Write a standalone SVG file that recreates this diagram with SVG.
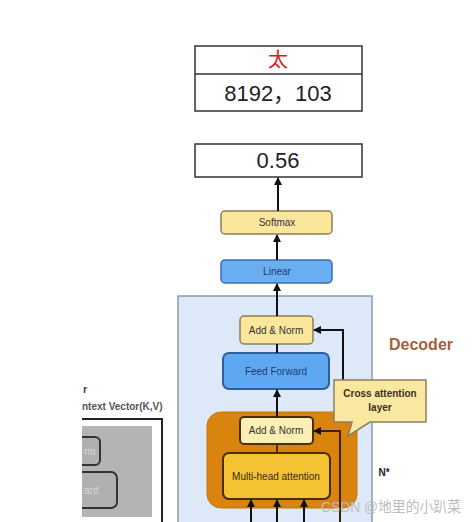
<svg xmlns="http://www.w3.org/2000/svg" width="474" height="522" viewBox="0 0 474 522">
<defs>
<marker id="ah" markerWidth="8" markerHeight="8" refX="7" refY="4" orient="auto" markerUnits="userSpaceOnUse"><path d="M0,0 L8,4 L0,8 Z" fill="#111"/></marker>
<clipPath id="encClip"><rect x="82" y="360" width="100" height="162"/></clipPath>
</defs>
<style>
.box{fill:#fff;stroke:#333;stroke-width:1.5}
.big{font-family:"Liberation Sans","Noto Sans CJK SC",sans-serif;font-size:22px;fill:#222;text-anchor:middle}
.sm{font-family:"Liberation Sans",Arial,sans-serif;font-size:10px;text-anchor:middle}
.yel{fill:#fbe79c;stroke:#8c7f55;stroke-width:1.5}
.blue{fill:#5ea8f2;stroke:#2d5f9e;stroke-width:2}
.conn{stroke:#111;stroke-width:2;fill:none}
</style>
<rect width="474" height="522" fill="#fff"/>
<!-- Decoder container -->
<g id="decoder">
<rect x="178" y="296" width="194" height="240" fill="#dde9f8" stroke="#8c98a8" stroke-width="1.5"/>
<text x="421" y="350" font-family="Liberation Sans,Arial,sans-serif" font-size="16" font-weight="bold" fill="#a65f3a" text-anchor="middle">Decoder</text>
<text x="384" y="476" font-family="Liberation Sans,Arial,sans-serif" font-size="10" font-weight="bold" fill="#222" text-anchor="middle">N*</text>
</g>
<!-- Encoder partial -->
<g id="encoder" clip-path="url(#encClip)">
<text x="83" y="393" font-family="Liberation Sans,Arial,sans-serif" font-size="11" font-weight="bold" fill="#444">r</text>
<text x="82" y="410" font-family="Liberation Sans,Arial,sans-serif" font-size="10" font-weight="bold" fill="#555">ntext Vector(K,V)</text>
<path d="M60,419 H162 V522" fill="none" stroke="#222" stroke-width="2"/>
<rect x="60" y="426" width="92" height="91" fill="#b4b4b4"/>
<rect x="60" y="437" width="40" height="28" rx="5" fill="#b0b0b0" stroke="#333" stroke-width="2"/>
<text x="84" y="455" font-family="Liberation Sans,Arial,sans-serif" font-size="10" fill="#d8d8d8">rm</text>
<rect x="60" y="472" width="57" height="36" rx="6" fill="#b0b0b0" stroke="#333" stroke-width="2"/>
<text x="84" y="494" font-family="Liberation Sans,Arial,sans-serif" font-size="10" fill="#d8d8d8">ard</text>
</g>
<!-- Top output boxes -->
<g id="output-table">
<rect class="box" x="195" y="46" width="167" height="65"/>
<line x1="195" y1="74" x2="362" y2="74" stroke="#333" stroke-width="1.5"/>
<text x="278" y="67" font-family="Noto Sans CJK SC,sans-serif" font-size="20" fill="#d42020" text-anchor="middle">太</text>
<text class="big" x="278" y="101">8192，103</text>
</g>
<g id="prob">
<rect class="box" x="195" y="144" width="167" height="33"/>
<text class="big" x="278" y="168">0.56</text>
</g>
<g id="softmax">
<rect class="yel" x="221" y="211" width="111" height="23" rx="4"/>
<text class="sm" x="277" y="226" fill="#333">Softmax</text>
</g>
<g id="linear">
<rect x="221" y="260" width="111" height="23" rx="4" fill="#6aaef2" stroke="#3a6fb0" stroke-width="1.5"/>
<text class="sm" x="277" y="275" fill="#1f3a6e">Linear</text>
</g>
<g id="addnorm-top">
<rect class="yel" x="240" y="316" width="73" height="28" rx="4" stroke="#5a4a20" stroke-width="2"/>
<text class="sm" x="276" y="334" fill="#333">Add &amp; Norm</text>
</g>
<g id="feedforward">
<rect class="blue" x="223" y="353" width="106" height="36" rx="6"/>
<text class="sm" x="276" y="375" fill="#1f3a6e">Feed Forward</text>
</g>
<g id="self-attn-block">
<rect x="207" y="412" width="150" height="96" rx="14" fill="#d9840f" stroke="#c57510" stroke-width="1"/>
</g>
<g id="addnorm-inner">
<rect x="240" y="417" width="73" height="27" rx="4" fill="#fcefb4" stroke="#4a2e08" stroke-width="2"/>
<text class="sm" x="276" y="434" fill="#333">Add &amp; Norm</text>
</g>
<g id="multihead">
<rect x="223" y="453" width="107" height="46" rx="6" fill="#f4c232" stroke="#4a2e08" stroke-width="2"/>
<text class="sm" x="276" y="480" fill="#3a2a10">Multi-head attention</text>
</g>
<g id="connectors">
<line class="conn" x1="278" y1="211" x2="278" y2="178" marker-end="url(#ah)"/>
<line class="conn" x1="277" y1="260" x2="277" y2="235" marker-end="url(#ah)"/>
<line class="conn" x1="277" y1="316" x2="277" y2="284" marker-end="url(#ah)"/>
<line class="conn" x1="277" y1="353" x2="277" y2="344"/>
<path class="conn" d="M343,380 V330 H314" marker-end="url(#ah)"/>
<line class="conn" x1="277" y1="417" x2="277" y2="390" marker-end="url(#ah)"/>
<line x1="277" y1="453" x2="277" y2="444" stroke="#4a2e08" stroke-width="2"/>
<path d="M340,522 V431 H314" fill="none" stroke="#3a2208" stroke-width="2" marker-end="url(#ah)"/>
<line class="conn" x1="251" y1="522" x2="251" y2="500" marker-end="url(#ah)"/>
<line class="conn" x1="277" y1="522" x2="277" y2="500" marker-end="url(#ah)"/>
<line class="conn" x1="304" y1="522" x2="304" y2="500" marker-end="url(#ah)"/>
</g>
<g id="cross-attention">
<path d="M334,380 H426 V422 H370 L348,436 L352,422 H334 Z" fill="#fae7a0" stroke="#8a8060" stroke-width="1.5"/>
<text class="sm" x="380" y="397" fill="#3a3020" font-weight="bold">Cross attention</text>
<text class="sm" x="380" y="411" fill="#3a3020" font-weight="bold">layer</text>
</g>
<text x="321" y="512" font-family="Liberation Sans,Noto Sans CJK SC,sans-serif" font-size="15" textLength="140" lengthAdjust="spacingAndGlyphs" fill="#bdbdbd">CSDN @地里的小趴菜</text>
</svg>
